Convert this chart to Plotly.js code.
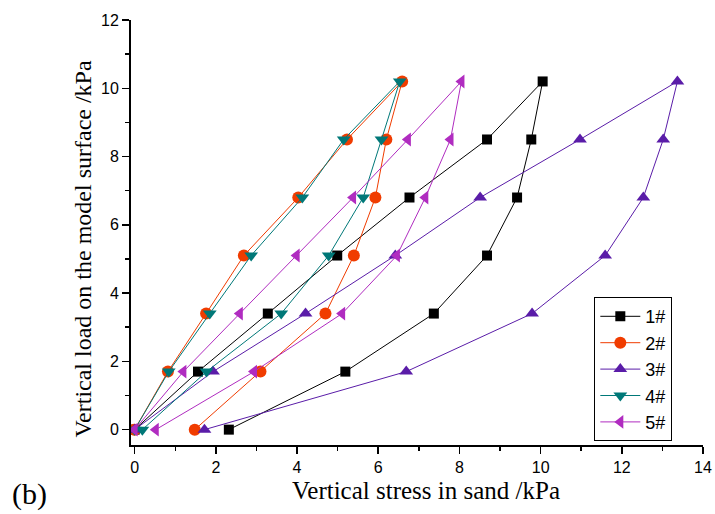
<!DOCTYPE html>
<html>
<head>
<meta charset="utf-8">
<script src="https://cdn.plot.ly/plotly-3.0.1.min.js"></script>
<style>html,body{margin:0;padding:0;background:#fff;}#chart{width:715px;height:514px;}</style>
</head>
<body>
<div id="chart"></div>
<script>
// Vertical load levels (loading then unloading), kPa
const loadLevels = [0, 1.7, 3.4, 5.1, 6.8, 8.5, 10.2, 8.5, 6.8, 5.1, 3.4, 1.7, 0];
// Vertical stress in sand for each test, kPa
const stress1 = [0, 1.56, 3.28, 4.99, 6.77, 8.68, 10.05, 9.77, 9.42, 8.68, 7.37, 5.19, 2.32];
const stress2 = [0, 0.82, 1.76, 2.69, 4.03, 5.23, 6.59, 6.20, 5.93, 5.40, 4.70, 3.10, 1.48];
const stress3 = [0, 1.93, 4.21, 6.42, 8.51, 10.97, 13.37, 13.02, 12.53, 11.59, 9.79, 6.69, 1.72];
const stress4 = [0, 0.84, 1.85, 2.87, 4.13, 5.15, 6.53, 6.08, 5.63, 4.78, 3.61, 1.77, 0.19];
const stress5 = [0, 1.20, 2.59, 3.99, 5.38, 6.73, 8.05, 7.78, 7.16, 6.46, 5.11, 2.94, 0.52];
const seriesNames = ['1#', '2#', '3#', '4#', '5#'];
const xTicks = [0, 2, 4, 6, 8, 10, 12, 14];
const yTicks = [0, 2, 4, 6, 8, 10, 12];
const xTitle = 'Vertical stress in sand /kPa';
const yTitle = 'Vertical load on the model surface /kPa';

const styles = [
  {color: '#000000', symbol: 'square', size: 10},
  {color: '#F03C00', symbol: 'circle', size: 12},
  {color: '#5A1CA8', symbol: 'triangle-up', size: 12},
  {color: '#007878', symbol: 'triangle-down', size: 12},
  {color: '#B02CC0', symbol: 'triangle-left', size: 12}
];
const xs = [stress1, stress2, stress3, stress4, stress5];

const traces = xs.map((x, i) => ({
  x: x, y: loadLevels, name: seriesNames[i],
  type: 'scatter', mode: 'lines+markers',
  line: {color: styles[i].color, width: 1},
  marker: {color: styles[i].color, symbol: styles[i].symbol, size: styles[i].size, line: {width: 0}}
}));

const axisFont = {family: 'Liberation Sans, Arial, sans-serif', size: 16, color: '#000'};
const serif = 'Liberation Serif, Times New Roman, serif';

const layout = {
  width: 715, height: 514,
  paper_bgcolor: '#fff', plot_bgcolor: '#fff',
  margin: {l: 131, r: 12, t: 20, b: 69},
  showlegend: true,
  legend: {
    x: 0.81, y: 0.348, xanchor: 'left', yanchor: 'top',
    bordercolor: '#000', borderwidth: 1, bgcolor: '#fff',
    font: {family: 'Liberation Sans, Arial, sans-serif', size: 18, color: '#000'},
    itemwidth: 40, tracegroupgap: 0
  },
  xaxis: {
    range: [-0.09, 14], tickvals: xTicks, ticktext: xTicks.map(String),
    showgrid: false, zeroline: false, showline: true, linecolor: '#000', linewidth: 2,
    ticks: 'outside', ticklen: 7, tickwidth: 1.5, tickcolor: '#000',
    minor: {dtick: 1, tick0: 0, ticks: 'outside', ticklen: 4, tickwidth: 1.5, tickcolor: '#000', showgrid: false},
    tickfont: axisFont, mirror: false,
    title: {text: ''}
  },
  yaxis: {
    range: [-0.45, 12], tickvals: yTicks, ticktext: yTicks.map(String),
    showgrid: false, zeroline: false, showline: true, linecolor: '#000', linewidth: 2,
    ticks: 'outside', ticklen: 7, tickwidth: 1.5, tickcolor: '#000',
    minor: {dtick: 1, tick0: 0, ticks: 'outside', ticklen: 4, tickwidth: 1.5, tickcolor: '#000', showgrid: false},
    tickfont: axisFont, mirror: false,
    title: {text: ''}
  },
  annotations: [
    {
      text: xTitle, xref: 'paper', yref: 'paper', x: 0.516, y: -0.072,
      xanchor: 'center', yanchor: 'top', showarrow: false, borderpad: 0,
      font: {family: serif, size: 25, color: '#000'}
    },
    {
      text: yTitle, xref: 'paper', yref: 'paper', x: -0.083, y: 0.461, textangle: -90,
      xanchor: 'center', yanchor: 'middle', showarrow: false, borderpad: 0,
      font: {family: serif, size: 24, color: '#000'}
    },
    {
      text: '(b)', xref: 'paper', yref: 'paper', x: -0.212, y: -0.115,
      xanchor: 'left', yanchor: 'middle', showarrow: false,
      font: {family: serif, size: 30, color: '#000'}
    }
  ]
};

Plotly.newPlot('chart', traces, layout, {displayModeBar: false, staticPlot: true});
</script>
</body>
</html>
